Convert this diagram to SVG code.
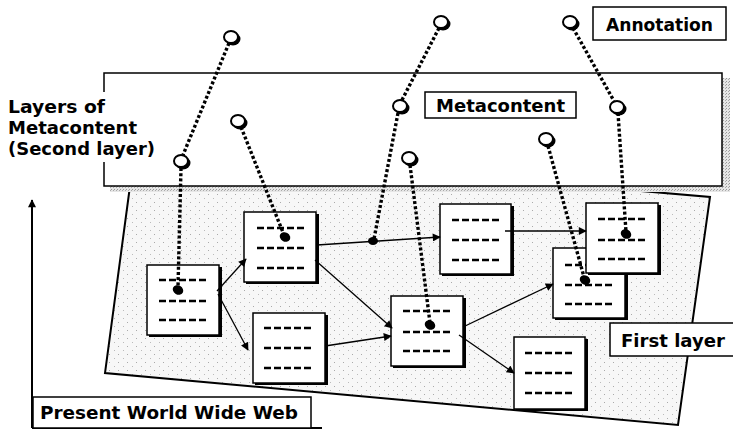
<svg xmlns="http://www.w3.org/2000/svg" width="733" height="429" viewBox="0 0 733 429">
<defs>
<pattern id="stip" width="9" height="8" patternUnits="userSpaceOnUse">
<rect width="9" height="8" fill="#f7f7f7"/>
<rect x="1" y="2" width="1" height="1" fill="#aaa"/>
<rect x="6" y="6" width="1" height="1" fill="#bbb"/>
</pattern>
<pattern id="shade" width="3" height="3" patternUnits="userSpaceOnUse">
<rect width="3" height="3" fill="#e6e6e6"/>
<rect x="0" y="0" width="1" height="1" fill="#999"/>
<rect x="2" y="1" width="1" height="1" fill="#aaa"/>
</pattern>
<marker id="ah" viewBox="0 0 10 10" refX="9" refY="5" markerWidth="9" markerHeight="8" markerUnits="userSpaceOnUse" orient="auto">
<path d="M0,0 L10,5 L0,10 Z" fill="#000"/>
</marker>
<marker id="axh" viewBox="0 0 10 10" refX="9" refY="5" markerWidth="10" markerHeight="8" markerUnits="userSpaceOnUse" orient="auto">
<path d="M0,0 L10,5 L0,10 Z" fill="#000"/>
</marker>
</defs>
<style>
.lbl{font-family:"DejaVu Sans","Liberation Sans",sans-serif;font-weight:bold;font-size:18px;fill:#000}
.box{fill:#fff;stroke:#000;stroke-width:1.5}
.nshadow{fill:#000}
.nbox{fill:#fff;stroke:#000;stroke-width:1.5}
.dash{stroke:#000;stroke-width:2.5;stroke-dasharray:7 3;fill:none}
.link{stroke:#000;stroke-width:1.3;fill:none;marker-end:url(#ah)}
.dot{stroke:#000;stroke-width:3.4;stroke-dasharray:3 2.2;fill:none}
.circ{fill:#fff;stroke:#000;stroke-width:2}
.csh{fill:#000}
.fdot{fill:#000}
</style>

<g id="first-layer">
<polygon points="130,186 560,184 710,197 678,425 105,373" fill="url(#stip)" stroke="#000" stroke-width="2"/>
</g>

<g id="second-layer">
<rect x="110" y="78" width="620" height="114" fill="url(#shade)"/>
<rect x="104" y="73" width="618" height="113" fill="#fff" stroke="#000" stroke-width="1.5"/>
</g>

<g id="axis">
<line x1="32" y1="428" x2="32" y2="200" stroke="#000" stroke-width="2" marker-end="url(#axh)"/>
<line x1="32" y1="428" x2="322" y2="428" stroke="#000" stroke-width="2"/>
</g>

<g id="node-a">
<rect class="nshadow" x="149" y="267" width="73" height="70"/>
<rect class="nbox" x="147" y="265" width="72" height="70"/>
<line class="dash" x1="159" y1="280" x2="207" y2="280"/>
<line class="dash" x1="159" y1="301" x2="207" y2="301"/>
<line class="dash" x1="159" y1="320" x2="207" y2="320"/>
</g>
<g id="node-b">
<rect class="nshadow" x="246" y="214" width="73" height="70"/>
<rect class="nbox" x="244" y="212" width="72" height="70"/>
<line class="dash" x1="257" y1="228" x2="305" y2="228"/>
<line class="dash" x1="257" y1="248" x2="305" y2="248"/>
<line class="dash" x1="257" y1="268" x2="305" y2="268"/>
</g>
<g id="node-c">
<rect class="nshadow" x="255" y="315" width="73" height="70"/>
<rect class="nbox" x="253" y="313" width="72" height="70"/>
<line class="dash" x1="264" y1="328" x2="312" y2="328"/>
<line class="dash" x1="264" y1="348" x2="312" y2="348"/>
<line class="dash" x1="264" y1="368" x2="312" y2="368"/>
</g>
<g id="node-d">
<rect class="nshadow" x="442" y="206" width="72" height="70"/>
<rect class="nbox" x="440" y="204" width="71" height="70"/>
<line class="dash" x1="452" y1="220" x2="500" y2="220"/>
<line class="dash" x1="452" y1="240" x2="500" y2="240"/>
<line class="dash" x1="452" y1="260" x2="500" y2="260"/>
</g>
<g id="node-e">
<rect class="nshadow" x="393" y="298" width="73" height="70"/>
<rect class="nbox" x="391" y="296" width="72" height="70"/>
<line class="dash" x1="403" y1="311" x2="451" y2="311"/>
<line class="dash" x1="403" y1="332" x2="451" y2="332"/>
<line class="dash" x1="403" y1="351" x2="451" y2="351"/>
</g>
<g id="node-f">
<rect class="nshadow" x="555" y="250" width="73" height="70"/>
<rect class="nbox" x="553" y="248" width="72" height="70"/>
<line class="dash" x1="565" y1="265" x2="613" y2="265"/>
<line class="dash" x1="565" y1="285" x2="613" y2="285"/>
<line class="dash" x1="565" y1="304" x2="613" y2="304"/>
</g>
<g id="node-g">
<rect class="nshadow" x="588" y="205" width="73" height="70"/>
<rect class="nbox" x="586" y="203" width="72" height="70"/>
<line class="dash" x1="598" y1="219" x2="646" y2="219"/>
<line class="dash" x1="598" y1="240" x2="646" y2="240"/>
<line class="dash" x1="598" y1="259" x2="646" y2="259"/>
</g>
<g id="node-h">
<rect class="nshadow" x="516" y="339" width="72" height="72"/>
<rect class="nbox" x="514" y="337" width="71" height="72"/>
<line class="dash" x1="525" y1="353" x2="573" y2="353"/>
<line class="dash" x1="525" y1="373" x2="573" y2="373"/>
<line class="dash" x1="525" y1="393" x2="573" y2="393"/>
</g>

<g id="connectors">
<line class="link" x1="217" y1="291" x2="246" y2="259"/>
<line class="link" x1="218" y1="294" x2="248" y2="350"/>
<line class="link" x1="317" y1="245" x2="440" y2="237"/>
<line class="link" x1="315" y1="260" x2="392" y2="328"/>
<line class="link" x1="325" y1="346" x2="391" y2="336"/>
<line class="link" x1="505" y1="231" x2="586" y2="231"/>
<line class="link" x1="463" y1="327" x2="553" y2="284"/>
<line class="link" x1="459" y1="335" x2="514" y2="373"/>
</g>

<g id="annotations">
<line class="dot" x1="229" y1="43" x2="183" y2="155"/>
<line class="dot" x1="181" y1="168" x2="178" y2="287"/>
<line class="dot" x1="241" y1="127" x2="284" y2="235"/>
<line class="dot" x1="439" y1="28" x2="402" y2="100"/>
<line class="dot" x1="398" y1="113" x2="374" y2="239"/>
<line class="dot" x1="410" y1="165" x2="430" y2="323"/>
<line class="dot" x1="573" y1="28" x2="614" y2="101"/>
<line class="dot" x1="618" y1="113" x2="626" y2="232"/>
<line class="dot" x1="548" y1="146" x2="584" y2="277"/>

<ellipse class="fdot" cx="178" cy="290" rx="5.5" ry="4.5" transform="rotate(30 178 290)"/>
<ellipse class="fdot" cx="285" cy="237" rx="5.5" ry="4.5" transform="rotate(30 285 237)"/>
<ellipse class="fdot" cx="373" cy="241" rx="5" ry="4"/>
<ellipse class="fdot" cx="430" cy="325" rx="5.5" ry="4.5" transform="rotate(30 430 325)"/>
<ellipse class="fdot" cx="585" cy="280" rx="5.5" ry="4.5" transform="rotate(30 585 280)"/>
<ellipse class="fdot" cx="626" cy="234" rx="5.5" ry="4.5" transform="rotate(30 626 234)"/>

<ellipse class="csh" cx="233" cy="39" rx="7.5" ry="6.5"/>
<ellipse class="circ" cx="231" cy="37" rx="7" ry="6"/>
<ellipse class="csh" cx="183" cy="163" rx="7.5" ry="6.5"/>
<ellipse class="circ" cx="181" cy="161" rx="7" ry="6"/>
<ellipse class="csh" cx="240" cy="123" rx="7.5" ry="6.5"/>
<ellipse class="circ" cx="238" cy="121" rx="7" ry="6"/>
<ellipse class="csh" cx="443" cy="24" rx="7.5" ry="6.5"/>
<ellipse class="circ" cx="441" cy="22" rx="7" ry="6"/>
<ellipse class="csh" cx="402" cy="108" rx="7.5" ry="6.5"/>
<ellipse class="circ" cx="400" cy="106" rx="7" ry="6"/>
<ellipse class="csh" cx="411" cy="160" rx="7.5" ry="6.5"/>
<ellipse class="circ" cx="409" cy="158" rx="7" ry="6"/>
<ellipse class="csh" cx="572" cy="24" rx="7.5" ry="6.5"/>
<ellipse class="circ" cx="570" cy="22" rx="7" ry="6"/>
<ellipse class="csh" cx="619" cy="109" rx="7.5" ry="6.5"/>
<ellipse class="circ" cx="617" cy="107" rx="7" ry="6"/>
<ellipse class="csh" cx="548" cy="141" rx="7.5" ry="6.5"/>
<ellipse class="circ" cx="546" cy="139" rx="7" ry="6"/>
</g>

<g id="label-layers">
<rect x="96" y="92" width="12" height="70" fill="#fff"/>
<text class="lbl" x="8" y="113" textLength="97" lengthAdjust="spacingAndGlyphs">Layers of</text>
<text class="lbl" x="8" y="134" textLength="129" lengthAdjust="spacingAndGlyphs">Metacontent</text>
<text class="lbl" x="8" y="155" textLength="147" lengthAdjust="spacingAndGlyphs">(Second layer)</text>
</g>
<g id="label-metacontent">
<rect class="box" x="425" y="92" width="151" height="26"/>
<text class="lbl" x="436" y="112" textLength="129" lengthAdjust="spacingAndGlyphs">Metacontent</text>
</g>
<g id="label-annotation">
<rect class="box" x="593" y="7" width="133" height="33"/>
<text class="lbl" x="606" y="31" textLength="107" lengthAdjust="spacingAndGlyphs">Annotation</text>
</g>
<g id="label-first">
<rect class="box" x="610" y="323" width="125" height="33"/>
<text class="lbl" x="621" y="347" textLength="104" lengthAdjust="spacingAndGlyphs">First layer</text>
</g>
<g id="label-www">
<rect class="box" x="33" y="397" width="278" height="31"/>
<text class="lbl" x="40" y="419" textLength="258" lengthAdjust="spacingAndGlyphs">Present World Wide Web</text>
</g>
</svg>
